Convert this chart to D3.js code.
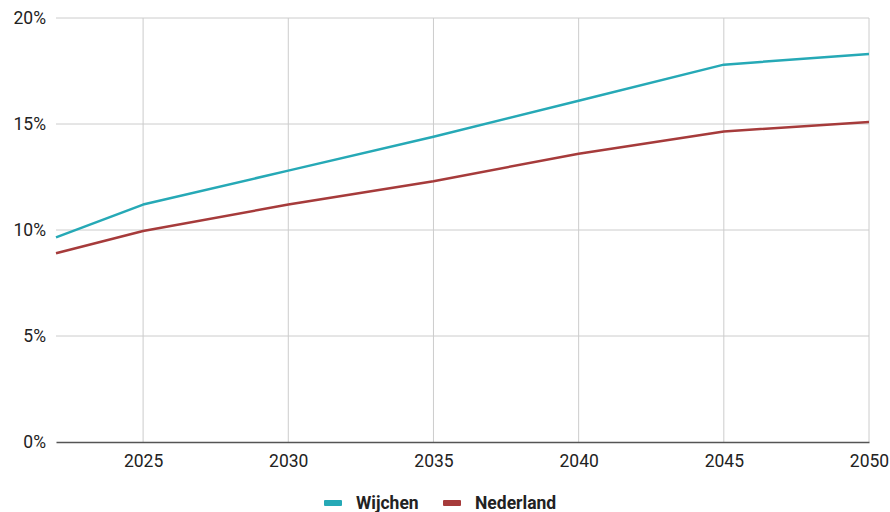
<!DOCTYPE html>
<html>
<head>
<meta charset="utf-8">
<style>
    html, body { margin: 0; padding: 0; background: #fff; }
    svg text { font-family: Roboto, "Noto Sans", sans-serif; fill: #222; }
    .grid line { stroke: #cccccc; stroke-width: 1; }
</style>
</head>
<body>
<svg width="890" height="512"></svg>
<script src="https://cdn.jsdelivr.net/npm/d3@7/dist/d3.min.js"></script>
<script>
    var years = [2022, 2025, 2030, 2035, 2040, 2045, 2050];
    var wijchen = [9.65, 11.2, 12.8, 14.4, 16.1, 17.8, 18.3];
    var nederland = [8.9, 9.95, 11.2, 12.3, 13.6, 14.65, 15.1];
    var xTicks = [2025, 2030, 2035, 2040, 2045, 2050];
    var yTicks = [0, 5, 10, 15, 20];
    var seriesNames = ["Wijchen", "Nederland"];
    var seriesColors = ["#26a9b6", "#a63b3b"];

    var svg = d3.select("svg"),
        margin = {top: 18, right: 21, bottom: 70, left: 56},
        width = +svg.attr("width") - margin.left - margin.right,
        height = +svg.attr("height") - margin.top - margin.bottom,
        g = svg.append("g").attr("transform", "translate(" + margin.left + "," + margin.top + ")");

    var x = d3.scaleLinear().domain([2022, 2050]).range([0, width]);
    var y = d3.scaleLinear().domain([0, 20]).range([height, 0]);

    // horizontal grid
    g.append("g").attr("class", "grid")
        .selectAll("line").data(yTicks.filter(function(d) { return d > 0; }))
        .enter().append("line")
        .attr("x1", 0).attr("x2", width)
        .attr("y1", function(d) { return y(d); }).attr("y2", function(d) { return y(d); });

    // vertical grid
    g.append("g").attr("class", "grid")
        .selectAll("line").data(xTicks)
        .enter().append("line")
        .attr("x1", function(d) { return x(d); }).attr("x2", function(d) { return x(d); })
        .attr("y1", 0).attr("y2", height);

    var yAxis = g.append("g")
        .call(d3.axisLeft(y).tickValues(yTicks).tickSize(0).tickPadding(10)
            .tickFormat(function(d) { return d + "%"; }));
    yAxis.select(".domain").remove();
    yAxis.selectAll("text").style("font-size", "17.5px").attr("fill", "#222");

    var xAxis = g.append("g")
        .attr("transform", "translate(0," + height + ")")
        .call(d3.axisBottom(x).tickValues(xTicks).tickSize(0).tickPadding(13)
            .tickFormat(d3.format("d")));
    xAxis.select(".domain").attr("stroke", "#555").attr("stroke-width", 1.5);
    xAxis.selectAll("text").style("font-size", "17.5px").attr("fill", "#222");

    var line = d3.line()
        .x(function(d, i) { return x(years[i]); })
        .y(function(d) { return y(d); });

    [wijchen, nederland].forEach(function(vals, k) {
        g.append("path")
            .datum(vals)
            .attr("fill", "none")
            .attr("stroke", seriesColors[k])
            .attr("stroke-width", 2.5)
            .attr("stroke-linejoin", "round")
            .attr("d", line);
    });

    // legend
    var legend = svg.append("g").attr("transform", "translate(324,503)");
    var offsets = [0, 119];
    seriesNames.forEach(function(name, k) {
        var lg = legend.append("g").attr("transform", "translate(" + offsets[k] + ",0)");
        lg.append("rect")
            .attr("x", 0).attr("y", -3).attr("width", 18).attr("height", 6)
            .attr("rx", 1)
            .attr("fill", seriesColors[k]);
        lg.append("text")
            .attr("x", 32).attr("y", 6)
            .style("font-size", "17.5px")
            .style("font-weight", "bold")
            .text(name);
    });
</script>
</body>
</html>
